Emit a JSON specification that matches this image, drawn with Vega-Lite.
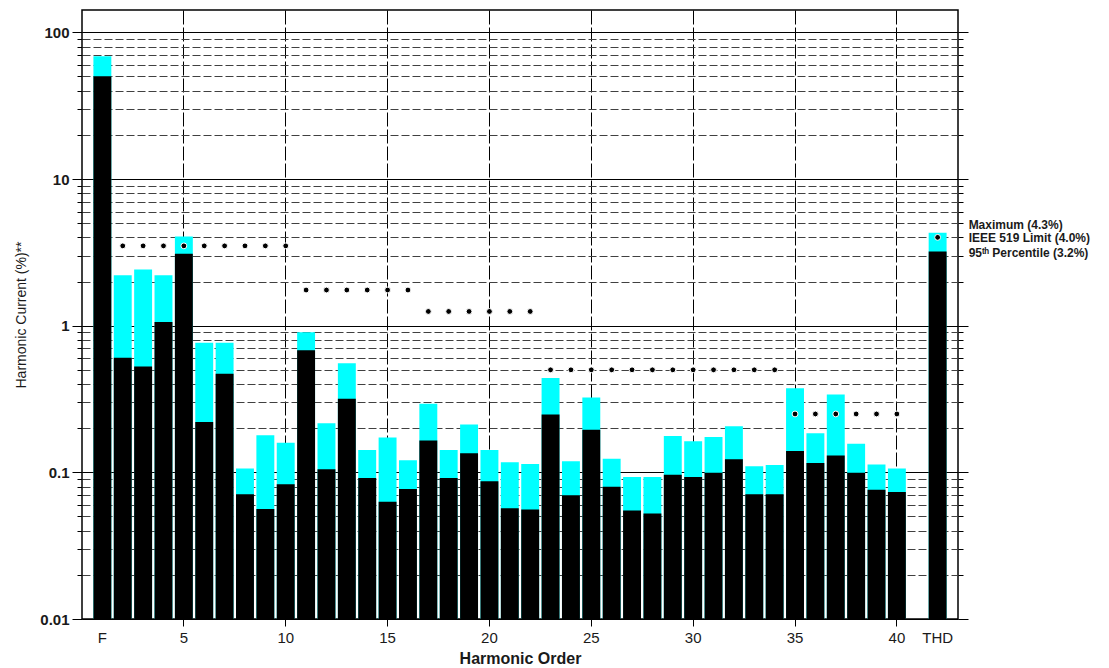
{
  "$schema": "https://vega.github.io/schema/vega-lite/v6.json",
  "width": 876,
  "height": 609,
  "autosize": {"type": "none"},
  "padding": {"left": 82, "top": 10, "right": 151, "bottom": 49},
  "background": "white",
  "config": {
    "view": {"stroke": "black", "strokeWidth": 1.5},
    "font": "Liberation Sans",
    "axis": {
      "domain": false,
      "labelFont": "Liberation Sans",
      "titleFont": "Liberation Sans",
      "labelColor": "#1a1a1a",
      "titleColor": "#1a1a1a",
      "tickColor": "black"
    }
  },
  "datasets": {
    "harmonics": [
      {"order": "F", "p95": 50.1, "maximum": 68.6},
      {"order": "2", "p95": 0.604, "maximum": 2.21},
      {"order": "3", "p95": 0.527, "maximum": 2.42},
      {"order": "4", "p95": 1.06, "maximum": 2.21},
      {"order": "5", "p95": 3.09, "maximum": 4.05},
      {"order": "6", "p95": 0.22, "maximum": 0.764},
      {"order": "7", "p95": 0.47, "maximum": 0.764},
      {"order": "8", "p95": 0.0708, "maximum": 0.106},
      {"order": "9", "p95": 0.0562, "maximum": 0.179},
      {"order": "10", "p95": 0.0828, "maximum": 0.159},
      {"order": "11", "p95": 0.681, "maximum": 0.903},
      {"order": "12", "p95": 0.105, "maximum": 0.216},
      {"order": "13", "p95": 0.317, "maximum": 0.555},
      {"order": "14", "p95": 0.0914, "maximum": 0.142},
      {"order": "15", "p95": 0.063, "maximum": 0.173},
      {"order": "16", "p95": 0.0769, "maximum": 0.121},
      {"order": "17", "p95": 0.165, "maximum": 0.293},
      {"order": "18", "p95": 0.0914, "maximum": 0.142},
      {"order": "19", "p95": 0.135, "maximum": 0.212},
      {"order": "20", "p95": 0.0868, "maximum": 0.142},
      {"order": "21", "p95": 0.0568, "maximum": 0.117},
      {"order": "22", "p95": 0.0559, "maximum": 0.114},
      {"order": "23", "p95": 0.248, "maximum": 0.439},
      {"order": "24", "p95": 0.0697, "maximum": 0.119},
      {"order": "25", "p95": 0.195, "maximum": 0.324},
      {"order": "26", "p95": 0.0797, "maximum": 0.124},
      {"order": "27", "p95": 0.055, "maximum": 0.0929},
      {"order": "28", "p95": 0.0525, "maximum": 0.0929},
      {"order": "29", "p95": 0.0962, "maximum": 0.177},
      {"order": "30", "p95": 0.0929, "maximum": 0.163},
      {"order": "31", "p95": 0.0993, "maximum": 0.174},
      {"order": "32", "p95": 0.123, "maximum": 0.206},
      {"order": "33", "p95": 0.0708, "maximum": 0.11},
      {"order": "34", "p95": 0.0708, "maximum": 0.112},
      {"order": "35", "p95": 0.14, "maximum": 0.375},
      {"order": "36", "p95": 0.1156, "maximum": 0.185},
      {"order": "37", "p95": 0.1305, "maximum": 0.34},
      {"order": "38", "p95": 0.0993, "maximum": 0.1565},
      {"order": "39", "p95": 0.076, "maximum": 0.1133},
      {"order": "40", "p95": 0.0733, "maximum": 0.1064},
      {"order": "THD", "p95": 3.2, "maximum": 4.3}
    ],
    "limits": [
      {"order": "2", "limit": 3.5}, {"order": "3", "limit": 3.5}, {"order": "4", "limit": 3.5},
      {"order": "5", "limit": 3.5}, {"order": "6", "limit": 3.5}, {"order": "7", "limit": 3.5},
      {"order": "8", "limit": 3.5}, {"order": "9", "limit": 3.5}, {"order": "10", "limit": 3.5},
      {"order": "11", "limit": 1.75}, {"order": "12", "limit": 1.75}, {"order": "13", "limit": 1.75},
      {"order": "14", "limit": 1.75}, {"order": "15", "limit": 1.75}, {"order": "16", "limit": 1.75},
      {"order": "17", "limit": 1.25}, {"order": "18", "limit": 1.25}, {"order": "19", "limit": 1.25},
      {"order": "20", "limit": 1.25}, {"order": "21", "limit": 1.25}, {"order": "22", "limit": 1.25},
      {"order": "23", "limit": 0.5}, {"order": "24", "limit": 0.5}, {"order": "25", "limit": 0.5},
      {"order": "26", "limit": 0.5}, {"order": "27", "limit": 0.5}, {"order": "28", "limit": 0.5},
      {"order": "29", "limit": 0.5}, {"order": "30", "limit": 0.5}, {"order": "31", "limit": 0.5},
      {"order": "32", "limit": 0.5}, {"order": "33", "limit": 0.5}, {"order": "34", "limit": 0.5},
      {"order": "35", "limit": 0.25}, {"order": "36", "limit": 0.25}, {"order": "37", "limit": 0.25},
      {"order": "38", "limit": 0.25}, {"order": "39", "limit": 0.25}, {"order": "40", "limit": 0.25},
      {"order": "THD", "limit": 4.0}
    ],
    "thdNotes": [
      {"order": "THD", "label": "Maximum (4.3%)", "value": 4.3, "kind": "max"},
      {"order": "THD", "label": "IEEE 519 Limit (4.0%)", "value": 4.0, "kind": "limit"},
      {"order": "THD", "label": "95ᵗʰ Percentile (3.2%)", "value": 3.2, "kind": "p95"}
    ]
  },
  "layer": [
    {
      "data": {"name": "harmonics"},
      "mark": {"type": "bar", "color": "#00FFFF"},
      "encoding": {
        "x": {
          "field": "order",
          "type": "nominal",
          "sort": null,
          "scale": {
            "domain": ["F", "2", "3", "4", "5", "6", "7", "8", "9", "10", "11", "12", "13", "14", "15", "16", "17", "18", "19", "20", "21", "22", "23", "24", "25", "26", "27", "28", "29", "30", "31", "32", "33", "34", "35", "36", "37", "38", "39", "40", " ", "THD"],
            "paddingInner": 0.12,
            "paddingOuter": 0.56
          },
          "axis": {
            "values": ["F", "5", "10", "15", "20", "25", "30", "35", "40", "THD"],
            "bandPosition": 0.5,
            "labelAngle": 0,
            "labelFontSize": 15,
            "labelPadding": 4,
            "tickSize": 7,
            "tickOpacity": {"condition": {"test": "datum.value == 'F' || datum.value == 'THD'", "value": 0}, "value": 1},
            "grid": true,
            "gridColor": "black",
            "gridDash": [14, 3],
            "gridOpacity": {"condition": {"test": "datum.value == 'F' || datum.value == 'THD'", "value": 0}, "value": 1},
            "title": "Harmonic Order",
            "titleFontSize": 16,
            "titleFontWeight": "bold",
            "titlePadding": 5
          }
        },
        "y": {
          "field": "maximum",
          "type": "quantitative",
          "scale": {"type": "log", "domain": [0.01, 142], "nice": false},
          "axis": {
            "orient": "left",
            "values": [0.01, 0.02, 0.03, 0.04, 0.05, 0.06, 0.07, 0.08, 0.09, 0.1, 0.2, 0.3, 0.4, 0.5, 0.6, 0.7, 0.8, 0.9, 1, 2, 3, 4, 5, 6, 7, 8, 9, 10, 20, 30, 40, 50, 60, 70, 80, 90, 100],
            "format": "~g",
            "labelExpr": "indexof([0.01, 0.1, 1, 10, 100], datum.value) >= 0 ? datum.label : ''",
            "labelFontSize": 15,
            "labelFontWeight": "bold",
            "labelPadding": 3,
            "labelOverlap": false,
            "tickSize": {"condition": {"test": "indexof([0.01, 0.1, 1, 10, 100], datum.value) >= 0", "value": 10}, "value": 5},
            "grid": true,
            "gridColor": {"condition": {"test": "indexof([0.01, 0.1, 1, 10, 100], datum.value) >= 0", "value": "black"}, "value": "#404040"},
            "gridDash": {"condition": {"test": "indexof([0.01, 0.1, 1, 10, 100], datum.value) >= 0", "value": []}, "value": [8, 3]},
            "title": "Harmonic Current (%)**",
            "titleFontSize": 14,
            "titleFontWeight": "normal",
            "titlePadding": 11
          }
        },
        "y2": {"datum": 0.01}
      }
    },
    {
      "data": {"name": "harmonics"},
      "mark": {"type": "bar", "color": "black"},
      "encoding": {
        "x": {"field": "order", "type": "nominal", "sort": null},
        "y": {"field": "p95", "type": "quantitative", "axis": null},
        "y2": {"datum": 0.01}
      }
    },
    {
      "data": {"name": "limits"},
      "mark": {"type": "point", "filled": true, "fill": "black", "stroke": "white", "strokeWidth": 1, "size": 34, "opacity": 1},
      "encoding": {
        "x": {"field": "order", "type": "nominal", "sort": null},
        "y": {
          "field": "limit",
          "type": "quantitative",
          "axis": {
            "orient": "right",
            "values": [0.01, 0.02, 0.03, 0.04, 0.05, 0.06, 0.07, 0.08, 0.09, 0.1, 0.2, 0.3, 0.4, 0.5, 0.6, 0.7, 0.8, 0.9, 1, 2, 3, 4, 5, 6, 7, 8, 9, 10, 20, 30, 40, 50, 60, 70, 80, 90, 100],
            "labels": false,
            "grid": false,
            "title": null,
            "tickSize": {"condition": {"test": "indexof([0.01, 0.1, 1, 10, 100], datum.value) >= 0", "value": 10}, "value": 5}
          }
        }
      }
    },
    {
      "data": {"name": "thdNotes"},
      "transform": [{"filter": "datum.kind == 'max'"}],
      "mark": {"type": "text", "align": "left", "baseline": "middle", "dx": 31, "dy": -8, "fontSize": 12, "fontWeight": "bold", "color": "#1a1a1a"},
      "encoding": {
        "x": {"field": "order", "type": "nominal", "sort": null},
        "y": {"field": "value", "type": "quantitative", "axis": null},
        "text": {"field": "label"}
      }
    },
    {
      "data": {"name": "thdNotes"},
      "transform": [{"filter": "datum.kind != 'max'"}],
      "mark": {"type": "text", "align": "left", "baseline": "middle", "dx": 31, "dy": 1, "fontSize": 12, "fontWeight": "bold", "color": "#1a1a1a"},
      "encoding": {
        "x": {"field": "order", "type": "nominal", "sort": null},
        "y": {"field": "value", "type": "quantitative", "axis": null},
        "text": {"field": "label"}
      }
    }
  ],
  "resolve": {"axis": {"y": "independent"}}
}
